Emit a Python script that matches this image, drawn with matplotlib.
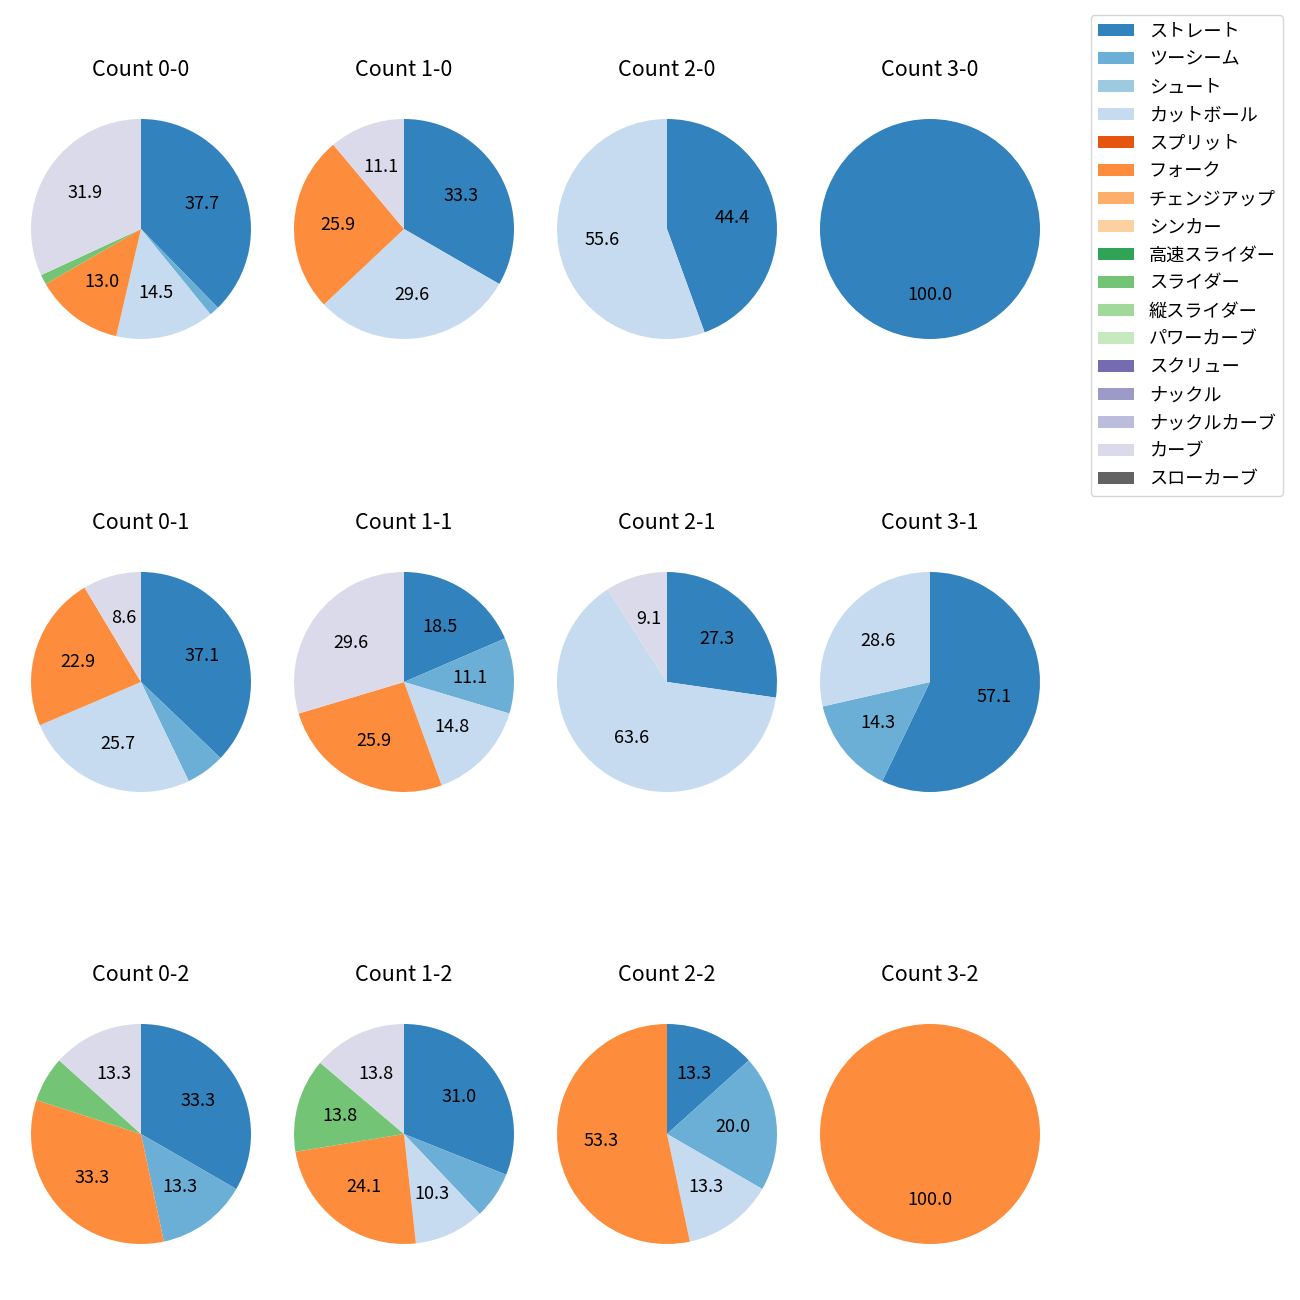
import matplotlib
matplotlib.use("Agg")
import matplotlib.pyplot as plt
import numpy as np
from matplotlib.patches import Patch

plt.rcParams['font.family'] = ['Noto Sans CJK JP', 'DejaVu Sans']

pitch_types = ['ストレート', 'ツーシーム', 'シュート', 'カットボール', 'スプリット', 'フォーク',
               'チェンジアップ', 'シンカー', '高速スライダー', 'スライダー', '縦スライダー',
               'パワーカーブ', 'スクリュー', 'ナックル', 'ナックルカーブ', 'カーブ', 'スローカーブ']

# pitch counts per ball-strike count, in pitch_types order
count_labels = ['0-0', '1-0', '2-0', '3-0',
                '0-1', '1-1', '2-1', '3-1',
                '0-2', '1-2', '2-2', '3-2']

counts_0_0 = [26, 1, 0, 10, 0, 9, 0, 0, 0, 1, 0, 0, 0, 0, 0, 22, 0]
counts_1_0 = [9, 0, 0, 8, 0, 7, 0, 0, 0, 0, 0, 0, 0, 0, 0, 3, 0]
counts_2_0 = [4, 0, 0, 5, 0, 0, 0, 0, 0, 0, 0, 0, 0, 0, 0, 0, 0]
counts_3_0 = [1, 0, 0, 0, 0, 0, 0, 0, 0, 0, 0, 0, 0, 0, 0, 0, 0]
counts_0_1 = [13, 2, 0, 9, 0, 8, 0, 0, 0, 0, 0, 0, 0, 0, 0, 3, 0]
counts_1_1 = [5, 3, 0, 4, 0, 7, 0, 0, 0, 0, 0, 0, 0, 0, 0, 8, 0]
counts_2_1 = [3, 0, 0, 7, 0, 0, 0, 0, 0, 0, 0, 0, 0, 0, 0, 1, 0]
counts_3_1 = [4, 1, 0, 2, 0, 0, 0, 0, 0, 0, 0, 0, 0, 0, 0, 0, 0]
counts_0_2 = [5, 2, 0, 0, 0, 5, 0, 0, 0, 1, 0, 0, 0, 0, 0, 2, 0]
counts_1_2 = [9, 2, 0, 3, 0, 7, 0, 0, 0, 4, 0, 0, 0, 0, 0, 4, 0]
counts_2_2 = [2, 3, 0, 2, 0, 8, 0, 0, 0, 0, 0, 0, 0, 0, 0, 0, 0]
counts_3_2 = [0, 0, 0, 0, 0, 1, 0, 0, 0, 0, 0, 0, 0, 0, 0, 0, 0]

all_counts = [counts_0_0, counts_1_0, counts_2_0, counts_3_0,
              counts_0_1, counts_1_1, counts_2_1, counts_3_1,
              counts_0_2, counts_1_2, counts_2_2, counts_3_2]

cmap = plt.get_cmap('tab20c')
colors = [cmap(i) for i in range(len(pitch_types))]

W = H = 1300
fig = plt.figure(figsize=(13, 13), dpi=100)

cx = [141, 404, 667, 930]
cy = [229, 682, 1134]
size = 275

for idx, (lab, vals) in enumerate(zip(count_labels, all_counts)):
    r, c = divmod(idx, 4)
    left = (cx[c] - size / 2) / W
    bottom = 1 - (cy[r] + size / 2) / H
    ax = fig.add_axes([left, bottom, size / W, size / H])
    vals = np.array(vals, dtype=float)
    mask = vals > 0
    ax.pie(vals[mask], colors=[colors[i] for i in range(len(vals)) if mask[i]],
           startangle=90, counterclock=False,
           autopct=lambda p: f'{p:.1f}' if p >= 8 else '',
           pctdistance=0.6, textprops={'fontsize': 13})
    ax.set_title(f'Count {lab}', fontsize=15.5, pad=11)

handles = [Patch(facecolor=colors[i], label=pitch_types[i]) for i in range(len(pitch_types))]
fig.legend(handles=handles, loc='upper right', bbox_to_anchor=(1283 / W, 1 - 15 / H),
           borderaxespad=0, fontsize=13.1, labelspacing=0.55)

fig.savefig('out.png', dpi=100)
